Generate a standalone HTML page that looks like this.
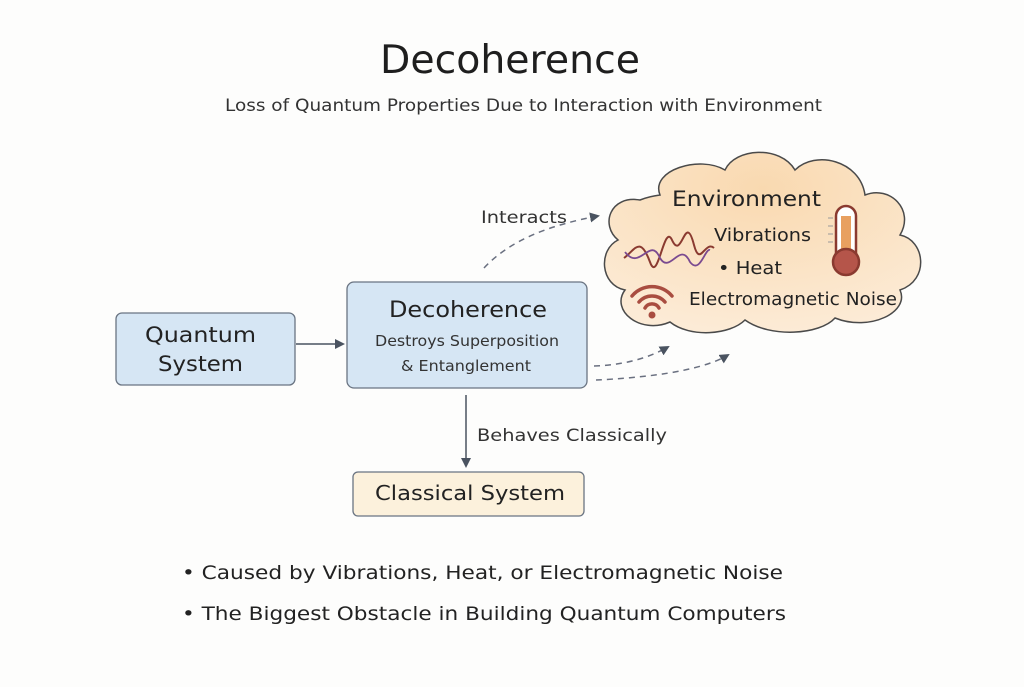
<!DOCTYPE html>
<html><head><meta charset="utf-8"><style>
html,body{margin:0;padding:0;background:#fdfdfc;}
body{width:1024px;height:683px;overflow:hidden;font-family:"DejaVu Sans","Liberation Sans",sans-serif;}
</style></head><body>
<svg width="1024" height="683" viewBox="0 0 1024 683" xmlns="http://www.w3.org/2000/svg" font-family="DejaVu Sans, Liberation Sans, sans-serif">
<defs>
<radialGradient id="cg" cx="0.5" cy="0.2" r="0.8"><stop offset="0" stop-color="#f9d9b0"/><stop offset="1" stop-color="#fcebd6"/></radialGradient>
<marker id="ah" markerWidth="10" markerHeight="10" refX="8" refY="5" orient="auto" markerUnits="userSpaceOnUse"><path d="M0,0 L10,5 L0,10 z" fill="#4a5360"/></marker>
</defs>
<text x="380" y="73" font-size="39" fill="#1e1e1e" textLength="260" lengthAdjust="spacingAndGlyphs">Decoherence</text>
<text x="225" y="111" font-size="17" fill="#333" textLength="597" lengthAdjust="spacingAndGlyphs">Loss of Quantum Properties Due to Interaction with Environment</text>
<!-- cloud -->
<path d="M640,200 C610,195 600,225 618,240 C598,250 600,285 625,290 C610,310 640,335 670,322 C690,338 730,335 745,320 C770,338 820,335 835,318 C870,332 910,312 900,290 C930,280 925,240 900,235 C915,210 890,185 865,195 C860,160 815,150 795,170 C780,145 735,148 725,170 C700,155 650,170 660,195 C652,196 645,198 640,200 Z" fill="url(#cg)" stroke="#4a4a4a" stroke-width="1.5"/>
<text x="672" y="206" font-size="21" fill="#222" textLength="149" lengthAdjust="spacingAndGlyphs">Environment</text>
<text x="714" y="241" font-size="18" fill="#222" textLength="97" lengthAdjust="spacingAndGlyphs">Vibrations</text>
<text x="718" y="274" font-size="18" fill="#222" textLength="64" lengthAdjust="spacingAndGlyphs">• Heat</text>
<text x="689" y="305" font-size="18" fill="#222" textLength="208" lengthAdjust="spacingAndGlyphs">Electromagnetic Noise</text>
<!-- wave -->
<path d="M624,258 C635,250 640,235 650,262 C658,285 664,222 672,240 C682,262 685,210 694,245 C700,268 705,240 714,248" fill="none" stroke="#8a3a30" stroke-width="2"/>
<path d="M625,252 C640,272 650,235 660,258 C670,275 680,240 690,262 C700,275 705,248 710,250" fill="none" stroke="#7a4a90" stroke-width="1.8"/>
<!-- thermometer -->
<rect x="836" y="206" width="20" height="58" rx="10" fill="#fff" stroke="#8a3a30" stroke-width="2.5"/>
<rect x="841" y="216" width="10" height="48" fill="#e8a060"/>
<circle cx="846" cy="262" r="13" fill="#b5554a" stroke="#8a3a30" stroke-width="2.5"/>
<g stroke="#999" stroke-width="1"><line x1="828" y1="218" x2="833" y2="218"/><line x1="828" y1="226" x2="833" y2="226"/><line x1="828" y1="234" x2="833" y2="234"/><line x1="828" y1="242" x2="833" y2="242"/></g>
<!-- wifi -->
<g fill="none" stroke="#a94d40" stroke-width="3.5" stroke-linecap="round">
<path d="M632,296 A26,26 0 0 1 672,296"/><path d="M639,302 A17,17 0 0 1 665,302"/><path d="M645,308 A8,8 0 0 1 659,308"/></g>
<circle cx="652" cy="315" r="3.5" fill="#a94d40"/>
<!-- boxes -->
<rect x="116" y="313" width="179" height="72" rx="6" fill="#d6e6f4" stroke="#6a7482" stroke-width="1.3"/>
<text x="145" y="342" font-size="21" fill="#222" textLength="111" lengthAdjust="spacingAndGlyphs">Quantum</text>
<text x="158" y="371" font-size="21" fill="#222" textLength="85" lengthAdjust="spacingAndGlyphs">System</text>
<rect x="347" y="282" width="240" height="106" rx="7" fill="#d6e6f4" stroke="#6a7482" stroke-width="1.3"/>
<text x="389" y="317" font-size="22" fill="#222" textLength="158" lengthAdjust="spacingAndGlyphs">Decoherence</text>
<text x="375" y="346" font-size="15" fill="#333" textLength="184" lengthAdjust="spacingAndGlyphs">Destroys Superposition</text>
<text x="401" y="371" font-size="15" fill="#333" textLength="130" lengthAdjust="spacingAndGlyphs">&amp; Entanglement</text>
<rect x="353" y="472" width="231" height="44" rx="5" fill="#fcf1dc" stroke="#6a7482" stroke-width="1.3"/>
<text x="375" y="500" font-size="20" fill="#222" textLength="190" lengthAdjust="spacingAndGlyphs">Classical System</text>
<!-- arrows -->
<line x1="296" y1="344" x2="343" y2="344" stroke="#4a5360" stroke-width="1.5" marker-end="url(#ah)"/>
<line x1="466" y1="395" x2="466" y2="466" stroke="#4a5360" stroke-width="1.5" marker-end="url(#ah)"/>
<text x="477" y="441" font-size="17" fill="#333" textLength="190" lengthAdjust="spacingAndGlyphs">Behaves Classically</text>
<path d="M484,268 C510,240 550,225 598,216" fill="none" stroke="#6a7080" stroke-width="1.5" stroke-dasharray="6,5" marker-end="url(#ah)"/>
<text x="481" y="223" font-size="17" fill="#333" textLength="86" lengthAdjust="spacingAndGlyphs">Interacts</text>
<path d="M594,366 C620,365 645,360 668,347" fill="none" stroke="#6a7080" stroke-width="1.5" stroke-dasharray="6,5" marker-end="url(#ah)"/>
<path d="M596,380 C640,378 700,372 728,355" fill="none" stroke="#6a7080" stroke-width="1.5" stroke-dasharray="6,5" marker-end="url(#ah)"/>
<text x="182" y="579" font-size="19" fill="#222" textLength="601" lengthAdjust="spacingAndGlyphs">• Caused by Vibrations, Heat, or Electromagnetic Noise</text>
<text x="182" y="620" font-size="19" fill="#222" textLength="604" lengthAdjust="spacingAndGlyphs">• The Biggest Obstacle in Building Quantum Computers</text>
</svg>
</body></html>
